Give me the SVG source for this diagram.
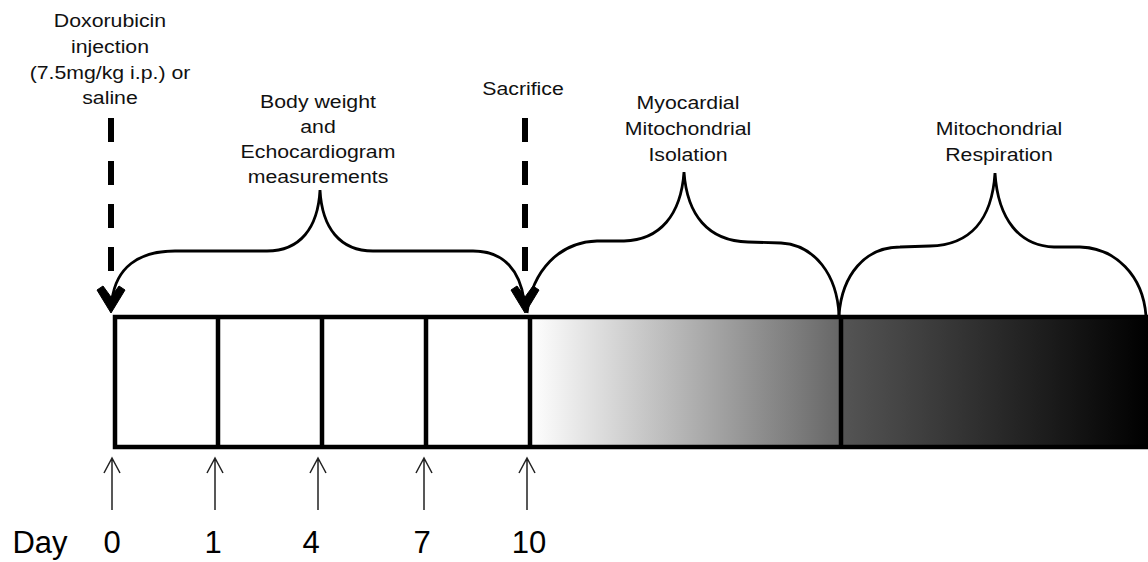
<svg xmlns="http://www.w3.org/2000/svg" width="1148" height="562" viewBox="0 0 1148 562">
<defs>
<linearGradient id="g1" x1="530" y1="0" x2="841" y2="0" gradientUnits="userSpaceOnUse">
<stop offset="0" stop-color="#ffffff"/><stop offset="1" stop-color="#666666"/>
</linearGradient>
<linearGradient id="g2" x1="841" y1="0" x2="1148" y2="0" gradientUnits="userSpaceOnUse">
<stop offset="0" stop-color="#555555"/><stop offset="1" stop-color="#000000"/>
</linearGradient>
</defs>
<style>
.lbl{font-family:"Liberation Sans",Arial,sans-serif;font-size:18.5px;fill:#111;text-anchor:middle}
.day{font-family:"Liberation Sans",Arial,sans-serif;font-size:31px;fill:#000;text-anchor:middle}
.brace{fill:none;stroke:#000;stroke-width:2.8}
.dash{fill:none;stroke:#000;stroke-width:6;stroke-dasharray:24 19}
.cell{stroke:#000;stroke-width:4.5}
.thin{fill:none;stroke:#222;stroke-width:1.5}
.head{fill:#000;stroke:#000;stroke-width:1;stroke-linejoin:round}
</style>
<g id="timeline-bar">
<rect x="115" y="317" width="415" height="130" fill="#fff"/>
<rect x="530" y="317" width="311" height="130" fill="url(#g1)"/>
<rect x="841" y="317" width="310" height="130" fill="url(#g2)"/>
<rect class="cell" x="115" y="317" width="1040" height="130" fill="none"/>
<line class="cell" x1="218" y1="317" x2="218" y2="447"/>
<line class="cell" x1="322" y1="317" x2="322" y2="447"/>
<line class="cell" x1="426" y1="317" x2="426" y2="447"/>
<line class="cell" x1="530" y1="317" x2="530" y2="447"/>
<line class="cell" x1="841" y1="317" x2="841" y2="447"/>
</g>
<g id="label-injection">
<text class="lbl" transform="translate(110 27) scale(1.15 1)">Doxorubicin</text>
<text class="lbl" transform="translate(110 53) scale(1.15 1)">injection</text>
<text class="lbl" transform="translate(110 79) scale(1.15 1)">(7.5mg/kg i.p.) or</text>
<text class="lbl" transform="translate(110 104) scale(1.15 1)">saline</text>
</g>
<g id="label-body">
<text class="lbl" transform="translate(318 108) scale(1.15 1)">Body weight</text>
<text class="lbl" transform="translate(318 133) scale(1.15 1)">and</text>
<text class="lbl" transform="translate(318 158) scale(1.15 1)">Echocardiogram</text>
<text class="lbl" transform="translate(318 183) scale(1.15 1)">measurements</text>
</g>
<g id="label-sacrifice">
<text class="lbl" transform="translate(523 95) scale(1.15 1)">Sacrifice</text>
</g>
<g id="label-isolation">
<text class="lbl" transform="translate(688 109) scale(1.15 1)">Myocardial</text>
<text class="lbl" transform="translate(688 135) scale(1.15 1)">Mitochondrial</text>
<text class="lbl" transform="translate(688 161) scale(1.15 1)">Isolation</text>
</g>
<g id="label-respiration">
<text class="lbl" transform="translate(999 135) scale(1.15 1)">Mitochondrial</text>
<text class="lbl" transform="translate(999 161) scale(1.15 1)">Respiration</text>
</g>
<g id="days">
<text class="day" x="40" y="553">Day</text>
<text class="day" x="112" y="553">0</text>
<text class="day" x="213" y="553">1</text>
<text class="day" x="311" y="553">4</text>
<text class="day" x="422" y="553">7</text>
<text class="day" x="529" y="553">10</text>
</g>
<g id="connectors">
<line class="dash" x1="111" y1="118" x2="111" y2="272"/>
<line class="dash" x1="525" y1="118" x2="525" y2="272"/>
<path class="brace" d="M112 300 C116 268,138 251,175 251 L267 251 C300 251,318 228,320 190 C322 228,340 251,373 251 L473 251 C505 251,520 272,524 300"/>
<path class="brace" d="M527 313 C532 270,560 242,597 241 L624 241 C660 240,681 215,684 172 C687 215,708 241,748 242 L781 243 C815 245,837 275,839 315"/>
<path class="brace" d="M839 315 C842 275,865 247,900 247 L930 246 C970 245,992 220,995 173 C998 220,1020 246,1054 247 L1080 247 C1115 248,1143 275,1146 316"/>
<polygon class="head" points="97,290 103,286 111,297 119,286 125,290 111,313"/>
<polygon class="head" points="511,290 517,286 525,297 533,286 539,290 525,313"/>
<path class="thin" d="M112 510 V458 M104 473 L112 458 L120 473"/>
<path class="thin" d="M215 510 V458 M207 473 L215 458 L223 473"/>
<path class="thin" d="M318 510 V458 M310 473 L318 458 L326 473"/>
<path class="thin" d="M424 510 V458 M416 473 L424 458 L432 473"/>
<path class="thin" d="M527 510 V458 M519 473 L527 458 L535 473"/>
</g>
</svg>
